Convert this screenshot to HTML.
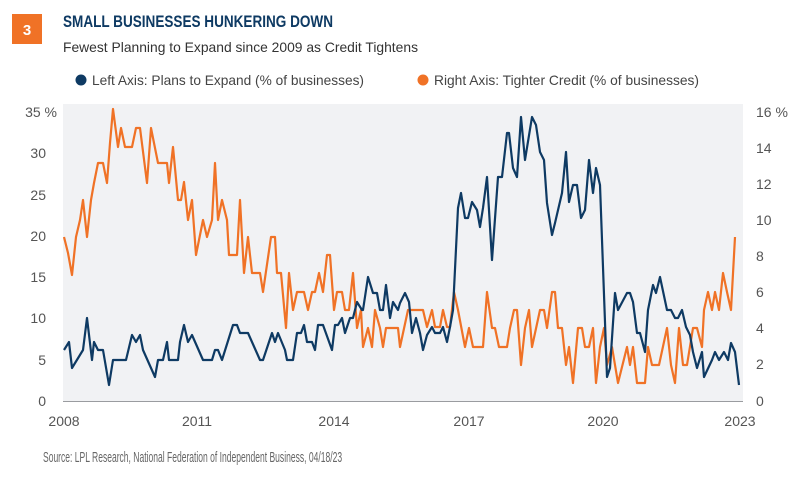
<!DOCTYPE html>
<html><head><meta charset="utf-8"><style>
body{margin:0;background:#fff;}
svg{display:block;font-family:"Liberation Sans",sans-serif;}
</style></head><body>
<svg width="789" height="481" viewBox="0 0 789 481">
<rect x="12" y="14" width="30" height="30" fill="#f07226"/>
<text x="27" y="35" fill="#fff" font-size="15" font-weight="bold" text-anchor="middle">3</text>
<text x="63" y="27" fill="#0e3a63" font-size="17" font-weight="bold" textLength="270" lengthAdjust="spacingAndGlyphs">SMALL BUSINESSES HUNKERING DOWN</text>
<text x="63" y="52" fill="#333" font-size="14" textLength="355" lengthAdjust="spacingAndGlyphs">Fewest Planning to Expand since 2009 as Credit Tightens</text>
<circle cx="81" cy="80" r="5.5" fill="#0e3a63"/>
<text x="92" y="85" fill="#444" font-size="14" textLength="272" lengthAdjust="spacingAndGlyphs">Left Axis: Plans to Expand (% of businesses)</text>
<circle cx="423" cy="80" r="5.5" fill="#f07226"/>
<text x="434" y="85" fill="#444" font-size="14" textLength="265" lengthAdjust="spacingAndGlyphs">Right Axis: Tighter Credit (% of businesses)</text>
<rect x="63" y="104" width="680" height="298" fill="#f1f2f4"/>
<line x1="63" y1="401.5" x2="743" y2="401.5" stroke="#9a9ca0" stroke-width="1"/>
<g fill="#555" font-size="14" text-anchor="end">
<text x="57" y="117">35 %</text><text x="46" y="158">30</text><text x="46" y="200">25</text><text x="46" y="241">20</text><text x="46" y="282">15</text><text x="46" y="323">10</text><text x="46" y="365">5</text><text x="46" y="406">0</text>
</g>
<g fill="#555" font-size="14">
<text x="756" y="117">16 %</text><text x="756" y="153">14</text><text x="756" y="189">12</text><text x="756" y="225">10</text><text x="756" y="261">8</text><text x="756" y="297">6</text><text x="756" y="333">4</text><text x="756" y="369">2</text><text x="756" y="406">0</text>
</g>
<g fill="#555" font-size="14" text-anchor="middle">
<text x="64" y="426">2008</text><text x="197" y="426">2011</text><text x="334" y="426">2014</text><text x="469" y="426">2017</text><text x="603" y="426">2020</text><text x="740" y="426">2023</text>
</g>
<g transform="translate(43,462) scale(0.57,1)">
<text x="0" y="0" fill="#666" font-size="15">Source: LPL Research, National Federation of Independent Business,  04/18/23</text>
</g>
<polyline fill="none" stroke="#f07226" stroke-width="2.2" stroke-linejoin="round" points="64,237 68,253 72,275 76,237 80,220 83,200 87,237 91,200 94,183 98,163 103,163 107,183 110,143 113,109 118,147 121,128 125,147 132,147 136,128 140,128 147,183 151,128 158,163 167,163 169,183 173,147 178,200 181,200 184,182 188,220 192,200 196,255 203,220 207,237 212,220 215,163 218,220 222,200 227,220 229,255 237,255 240,200 244,273 248,237 252,273 260,273 263,292 271,237 275,237 277,273 281,273 286,328 289,273 293,310 297,292 304,292 308,310 312,292 315,292 319,273 323,292 327,255 330,255 334,310 337,292 342,292 345,310 349,310 353,273 357,328 361,310 363,347 368,328 372,347 375,310 380,328 383,347 386,328 398,328 400,347 408,310 423,310 427,327 432,310 435,327 440,327 443,310 447,327 450,327 454,292 458,310 465,347 469,328 473,347 483,347 487,292 492,328 495,328 499,347 507,347 510,328 514,310 517,310 521,365 525,328 529,310 532,347 540,310 544,310 547,328 552,292 555,292 558,328 562,328 566,365 569,347 573,383 578,328 582,328 585,347 589,347 593,328 596,383 600,347 604,328 607,365 612,347 618,383 627,347 630,365 633,347 637,383 645,383 648,347 652,365 659,365 667,328 671,365 675,383 679,328 683,365 687,365 693,328 697,328 702,347 704,310 708,292 712,310 715,292 719,310 723,273 727,292 731,310 735,237"/>
<polyline fill="none" stroke="#0e3a63" stroke-width="2.2" stroke-linejoin="round" points="64,350 69,342 72,368 83,350 87,318 92,360 94,342 98,350 103,350 109,385 113,360 126,360 132,335 136,342 140,335 143,350 155,377 158,360 163,360 167,342 169,360 178,360 180,342 184,325 188,342 192,335 203,360 212,360 215,350 218,350 222,360 233,325 237,325 240,333 248,333 260,360 263,360 272,333 275,342 278,333 285,350 287,360 293,360 297,333 301,333 304,325 307,342 312,342 315,350 318,325 323,325 332,350 335,325 338,325 342,318 345,333 350,318 353,318 357,302 362,310 363,310 368,277 373,293 377,293 380,310 383,310 386,285 390,318 393,302 398,310 400,303 405,293 409,302 412,333 416,318 420,333 423,350 427,335 432,327 435,333 440,333 443,327 447,342 450,327 453,310 458,208 461,193 465,218 468,218 472,202 477,210 480,227 483,208 487,177 492,260 498,177 502,177 507,133 509,133 513,168 517,177 521,117 525,160 532,117 536,125 540,152 544,160 547,203 552,235 555,223 562,193 566,152 569,202 573,185 577,185 581,218 585,210 589,160 593,193 596,168 600,185 607,377 610,368 615,293 618,310 627,293 630,293 633,302 637,333 640,333 645,352 648,310 653,285 656,293 660,277 667,310 671,310 675,318 678,318 682,310 686,327 690,335 693,352 697,368 702,352 704,377 712,360 715,352 719,360 724,352 728,360 731,343 735,352 739,385"/>
</svg>
</body></html>
